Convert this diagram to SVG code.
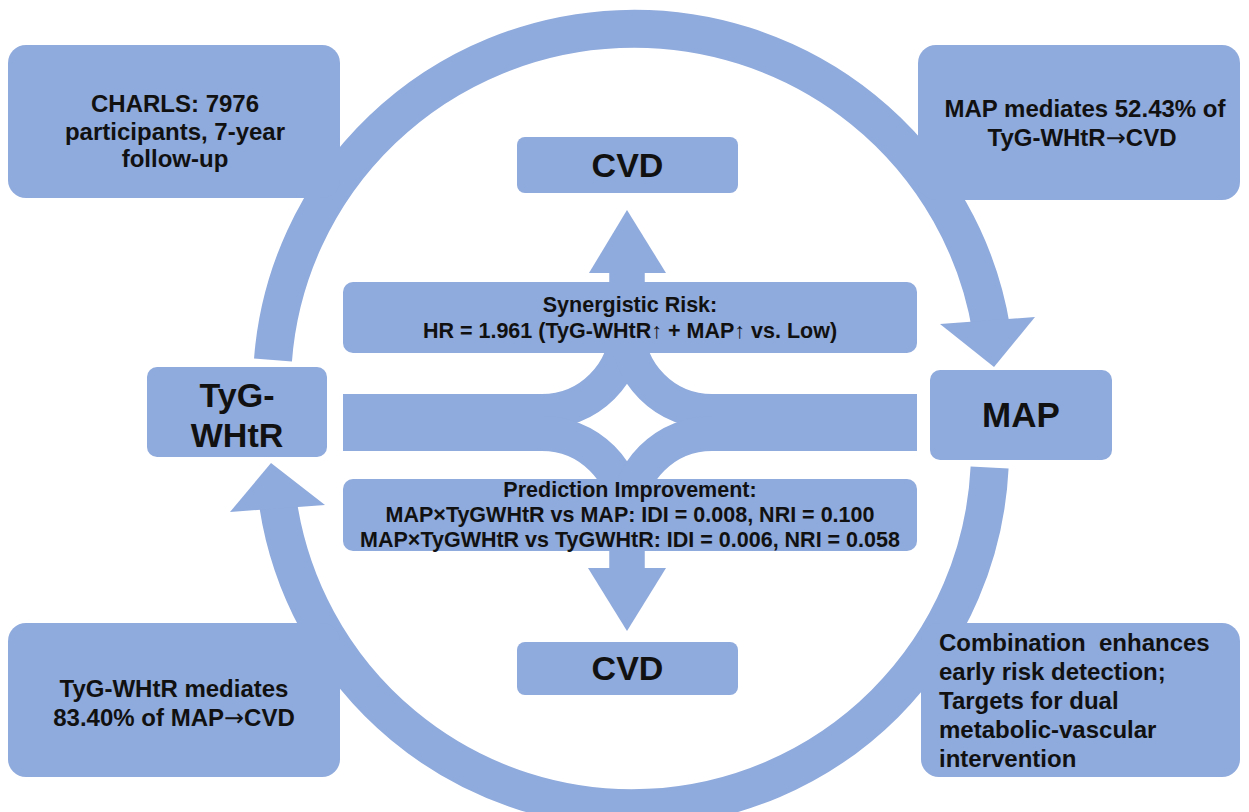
<svg xmlns="http://www.w3.org/2000/svg" width="1249" height="812" viewBox="0 0 1249 812">
<style>
.box{fill:#8FAADC;}
.band{fill:none;stroke:#8FAADC;stroke-linecap:butt;}
.head{fill:#8FAADC;}
text{font-family:"Liberation Sans",Arial,sans-serif;font-weight:bold;fill:#111;}
.c{text-anchor:middle;}
.corner{font-size:24px;}
.mid{font-size:21.5px;}
.big{font-size:34px;}
.arr{font-family:"DejaVu Sans",sans-serif;font-weight:normal;}
</style>
<rect width="1249" height="812" fill="#ffffff"/>
<g id="connectors">
  <path class="band" stroke-width="38" d="M 273 360 A 362 358 0 0 1 991.4 330"/>
  <polygon class="head" points="940,324 1035,317 994,367"/>
  <path class="band" stroke-width="38" d="M 989.6 467.5 A 358 358 0 0 1 277.5 500"/>
  <polygon class="head" points="230,512 325,505 271,463"/>
  <path class="band" stroke-width="35" d="M 343 411.5 H 542 A 85 85 0 0 0 627 326.5 V 268"/>
  <path class="band" stroke-width="35" d="M 917 411.5 H 712 A 85 85 0 0 1 627 326.5 V 268"/>
  <path class="band" stroke-width="35" d="M 343 433.5 H 542 A 85 85 0 0 1 627 518.5 V 572"/>
  <path class="band" stroke-width="35" d="M 917 433.5 H 712 A 85 85 0 0 0 627 518.5 V 572"/>
  <polygon class="head" points="589,273 666,273 627,210"/>
  <polygon class="head" points="588,568 666,568 627,631"/>
</g>
<g id="node-charls">
  <rect class="box" x="8" y="45" width="332" height="153" rx="18"/>
  <text class="corner c" x="175" y="112">CHARLS: 7976</text>
  <text class="corner c" x="175" y="140">participants, 7-year</text>
  <text class="corner c" x="175" y="167">follow-up</text>
</g>
<g id="node-map-mediates">
  <rect class="box" x="918" y="45" width="322" height="155" rx="18"/>
  <text class="corner c" x="1085" y="117">MAP mediates 52.43% of</text>
  <text class="corner c" x="1082" y="146">TyG-WHtR<tspan class="arr">→</tspan>CVD</text>
</g>
<g id="node-tyg-mediates">
  <rect class="box" x="8" y="623" width="332" height="154" rx="18"/>
  <text class="corner c" x="174" y="697">TyG-WHtR mediates</text>
  <text class="corner c" x="174" y="726">83.40% of MAP<tspan class="arr">→</tspan>CVD</text>
</g>
<g id="node-combination">
  <rect class="box" x="921" y="623" width="319" height="154" rx="18"/>
  <text class="corner" x="939" y="651" xml:space="preserve">Combination  enhances</text>
  <text class="corner" x="939" y="680">early risk detection;</text>
  <text class="corner" x="939" y="709">Targets for dual</text>
  <text class="corner" x="939" y="738">metabolic-vascular</text>
  <text class="corner" x="939" y="767">intervention</text>
</g>
<g id="node-cvd-top">
  <rect class="box" x="517" y="137" width="221" height="56" rx="8"/>
  <text class="big c" x="627.5" y="177">CVD</text>
</g>
<g id="node-cvd-bottom">
  <rect class="box" x="517" y="642" width="221" height="53" rx="8"/>
  <text class="big c" x="627.5" y="680">CVD</text>
</g>
<g id="node-tyg">
  <rect class="box" x="147" y="367" width="180" height="90" rx="10"/>
  <text class="big c" x="237" y="407">TyG-</text>
  <text class="big c" x="237" y="447">WHtR</text>
</g>
<g id="node-map">
  <rect class="box" x="930" y="370" width="182" height="90" rx="10"/>
  <text class="big c" x="1021" y="427" style="font-size:35px">MAP</text>
</g>
<g id="node-synergistic">
  <rect class="box" x="343" y="282" width="574" height="71" rx="10"/>
  <text class="mid c" x="630" y="312">Synergistic Risk:</text>
  <text class="mid c" x="630" y="338">HR = 1.961 (TyG-WHtR↑ + MAP↑ vs. Low)</text>
</g>
<g id="node-prediction">
  <rect class="box" x="343" y="479" width="574" height="72" rx="10"/>
  <text class="mid c" x="630" y="497">Prediction Improvement:</text>
  <text class="mid c" x="630" y="522">MAP×TyGWHtR vs MAP: IDI = 0.008, NRI = 0.100</text>
  <text class="mid c" x="630" y="547">MAP×TyGWHtR vs TyGWHtR: IDI = 0.006, NRI = 0.058</text>
</g>
</svg>
